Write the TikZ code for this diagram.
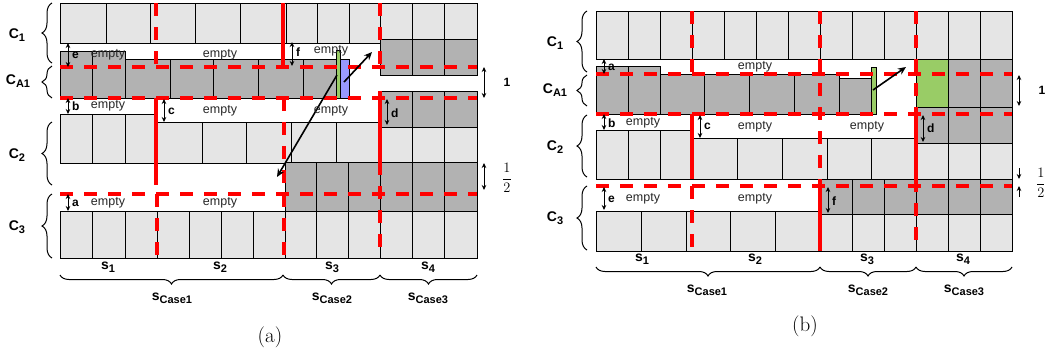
\documentclass[tikz,border=0pt]{standalone}
\usepackage{fontspec}
\newfontfamily\arial{Liberation Sans}
\usetikzlibrary{decorations.pathreplacing,arrows.meta}

\definecolor{cellL}{gray}{0.90}
\definecolor{cellD}{gray}{0.70}
\definecolor{mvgreen}{RGB}{153,204,102}
\definecolor{mvblue}{RGB}{153,153,255}

% a row of cells: fill, left x, right x, top y, bottom y, inner divider x values
\newcommand\cellrow[6]{%
  \draw[cellline,fill=#1] (#2,#4) rectangle (#3,#5);
  \foreach \xx in {#6} {\draw[cellline] (\xx,#4) -- (\xx,#5);}%
}
\newcommand\subs[1]{\raisebox{-3pt}{\fontsize{11}{12}\selectfont #1}}

\begin{document}
\begin{tikzpicture}[x=1pt,y=-1pt,
  cellline/.style={draw=black,line width=0.8pt},
  redd/.style={red,line width=3.2pt,dash pattern=on 13pt off 11pt},
  reds/.style={red,line width=3.2pt},
  dimarrow/.style={{Stealth[length=5pt,width=4.5pt]}-{Stealth[length=5pt,width=4.5pt]},line width=0.8pt},
  onearrow/.style={-{Stealth[length=5pt,width=4.5pt]},line width=0.8pt},
  movearrow/.style={-{Stealth[length=8pt,width=7pt]},line width=1.6pt},
  bracel/.style={decorate,decoration={brace,amplitude=10pt},line width=1pt},
  braceb/.style={decorate,decoration={brace,amplitude=9pt},line width=1pt},
  emptytxt/.style={font=\arial\fontsize{12.5}{13}\selectfont,text=black!85,inner sep=0pt},
  dimtxt/.style={font=\arial\bfseries\fontsize{12}{13}\selectfont,anchor=west,inner sep=0pt},
  rowlbl/.style={font=\arial\bfseries\fontsize{14}{15}\selectfont,inner sep=0pt},
  caplbl/.style={font=\fontsize{21}{24}\selectfont,inner sep=0pt},
  fraclbl/.style={font=\fontsize{15}{18}\selectfont,inner sep=0pt}]
\useasboundingbox (0,0) rectangle (1047,354);

% ---------------- panel (a) ----------------
\cellrow{cellL}{60}{380}{3}{43}{106,150,195,240,286,317,349}
\cellrow{cellL}{380}{477}{3}{39}{412,444}
\cellrow{cellD}{380}{477}{39}{75}{412,444}
\cellrow{cellD}{60}{125}{51}{98}{92}
\cellrow{cellD}{125}{336}{59}{98}{170,213,258,303}
\draw[cellline,fill=mvgreen] (336,50) rectangle (340,98);
\draw[cellline,fill=mvblue] (340,59) rectangle (349,98);
\cellrow{cellD}{380}{477}{91}{127}{412,444}
\cellrow{cellL}{380}{477}{127}{162}{412,444}
\cellrow{cellL}{60}{156}{114}{163}{92,125}
\cellrow{cellL}{156}{380}{122}{163}{202,246,291,336}
\cellrow{cellD}{285}{477}{162}{211}{316,348,380,412,444}
\cellrow{cellL}{60}{477}{211}{258}{92,125,157,189,221,253,285,316,348,380,412,444}

\draw[redd] (156,3) -- (156,67);
\draw[redd] (60,67) -- (477,67);
\draw[redd] (60,98) -- (477,98);
\draw[redd] (60,194) -- (477,194);
\draw[reds] (156,98) -- (156,185);
\draw[redd] (157,194) -- (157,258);
\draw[reds] (283,3) -- (283,67);
\draw[redd] (284,98) -- (284,258);
\draw[redd] (380,3) -- (380,75);
\draw[reds] (380,91) -- (380,162);
\draw[redd] (380,162) -- (380,258);

\coordinate (aBlue) at (344,82);
\coordinate (aGap) at (372,52);
\coordinate (aGreen) at (337,75);
\coordinate (aLow) at (277,177);
\draw[movearrow] (aBlue) -- (aGap);
\draw[movearrow] (aGreen) -- (aLow);

\draw[dimarrow] (68,43) -- (68,67);   \node[dimtxt] (ae) at (72,55) {e};
\draw[dimarrow] (68,98) -- (68,114);  \node[dimtxt] (ab) at (72,106) {b};
\draw[dimarrow] (164,99) -- (164,122);\node[dimtxt] (ac) at (168,111) {c};
\draw[dimarrow] (68,194) -- (68,211); \node[dimtxt] (aa) at (72,203) {a};
\draw[dimarrow] (292,42) -- (292,66); \node[dimtxt] (af) at (296,52) {f};
\draw[dimarrow] (387,99) -- (387,125);\node[dimtxt] (ad) at (391,113) {d};
\draw[dimarrow] (484,67) -- (484,98);
\node[font=\arial\bfseries\fontsize{12}{13}\selectfont] (aone) at (507,82) {1};
\draw[dimarrow] (484,163) -- (484,190);
\node[fraclbl] (ahalf) at (507,178) {$\displaystyle\frac{1}{2}$};

\node[emptytxt] (ae1) at (108,55) {empty};
\node[emptytxt] (ae2) at (220,55) {empty};
\node[emptytxt] (ae3) at (331,51) {empty};
\node[emptytxt] (ae4) at (108,106) {empty};
\node[emptytxt] (ae5) at (220,111) {empty};
\node[emptytxt] (ae6) at (331,111) {empty};
\node[emptytxt] (ae7) at (108,203) {empty};
\node[emptytxt] (ae8) at (220,203) {empty};

\draw[bracel] (52,63) -- (52,3);
\draw[bracel] (52,98) -- (52,66);
\draw[bracel] (52,185) -- (52,122);
\draw[bracel] (52,258) -- (52,194);
\node[rowlbl] (ac1) at (17,35) {C\subs{1}};
\node[rowlbl] (acA) at (18,81) {C\subs{A1}};
\node[rowlbl] (ac2) at (17,155) {C\subs{2}};
\node[rowlbl] (ac3) at (17,227) {C\subs{3}};

\node[rowlbl] (as1) at (108,267) {s\subs{1}};
\node[rowlbl] (as2) at (220,267) {s\subs{2}};
\node[rowlbl] (as3) at (332,267) {s\subs{3}};
\node[rowlbl] (as4) at (428,267) {s\subs{4}};
\draw[braceb] (283,275) -- (60,275);
\draw[braceb] (380,275) -- (283,275);
\draw[braceb] (477,275) -- (380,275);
\node[rowlbl] (asc1) at (172,298) {s\subs{Case1}};
\node[rowlbl] (asc2) at (332,298) {s\subs{Case2}};
\node[rowlbl] (asc3) at (428,298) {s\subs{Case3}};
\node[caplbl] (capa) at (270,337) {(a)};

% ---------------- panel (b) ----------------
\cellrow{cellL}{596}{1012}{11}{59}{628,660,692,724,756,788,820,852,884,916,948,980}
\cellrow{cellD}{596}{660}{66}{114}{628}
\cellrow{cellD}{660}{839}{74}{114}{704,749,794}
\draw[cellline,fill=cellD] (839,78) rectangle (871,114);
\draw[cellline,fill=mvgreen] (871,67) rectangle (876,114);
\draw[cellline,fill=mvgreen] (916,59) rectangle (948,107);
\cellrow{cellD}{948}{1012}{59}{107}{980}
\cellrow{cellD}{916}{1012}{107}{143}{948,980}
\cellrow{cellL}{916}{1012}{143}{179}{948,980}
\cellrow{cellL}{596}{692}{130}{179}{628,660}
\cellrow{cellL}{692}{916}{138}{179}{737,782,827,871}
\cellrow{cellD}{820}{1012}{179}{214}{852,884,916,948,980}
\cellrow{cellL}{596}{820}{211}{251}{641,686,730,775}
\cellrow{cellL}{820}{1012}{214}{251}{852,884,916,948,980}

\draw[redd] (692,11) -- (692,74);
\draw[redd] (596,74) -- (1012,74);
\draw[redd] (596,114) -- (1012,114);
\draw[redd] (596,186) -- (1012,186);
\draw[reds] (692,114) -- (692,179);
\draw[redd] (692,186) -- (692,251);
\draw[redd] (820,11) -- (820,186);
\draw[reds] (820,186) -- (820,251);
\draw[redd] (916,11) -- (916,107);
\draw[reds] (916,107) -- (916,179);
\draw[redd] (916,179) -- (916,251);

\coordinate (bGreen) at (873,90);
\coordinate (bGap) at (906,67);
\draw[movearrow] (bGreen) -- (bGap);

\draw[dimarrow] (604,59) -- (604,74);  \node[dimtxt] (ba) at (608,67) {a};
\draw[dimarrow] (604,114) -- (604,130);\node[dimtxt] (bb) at (608,123) {b};
\draw[dimarrow] (700,115) -- (700,138);\node[dimtxt] (bc) at (704,126) {c};
\draw[dimarrow] (923,115) -- (923,142);\node[dimtxt] (bd) at (927,128) {d};
\draw[dimarrow] (604,187) -- (604,210);\node[dimtxt] (be) at (608,199) {e};
\draw[dimarrow] (828,187) -- (828,213);\node[dimtxt] (bf) at (832,201) {f};
\draw[dimarrow] (1019,75) -- (1019,106);
\node[font=\arial\bfseries\fontsize{12}{13}\selectfont] (bone) at (1042,90) {1};
\coordinate (bh1) at (1019,168);
\coordinate (bh2) at (1019,179);
\coordinate (bh3) at (1019,197);
\coordinate (bh4) at (1019,186);
\draw[onearrow] (bh1) -- (bh2);
\draw[onearrow] (bh3) -- (bh4);
\node[fraclbl,anchor=west] (bhalf) at (1036,183) {$\displaystyle\frac{1}{2}$};

\node[emptytxt] (be1) at (755,67) {empty};
\node[emptytxt] (be2) at (643,123) {empty};
\node[emptytxt] (be3) at (755,127) {empty};
\node[emptytxt] (be4) at (867,127) {empty};
\node[emptytxt] (be5) at (643,199) {empty};
\node[emptytxt] (be6) at (755,199) {empty};

\draw[bracel] (587,72) -- (587,11);
\draw[bracel] (587,106) -- (587,75);
\draw[bracel] (587,177) -- (587,115);
\draw[bracel] (587,250) -- (587,186);
\node[rowlbl] (bc1) at (555,43) {C\subs{1}};
\node[rowlbl] (bcA) at (555,90) {C\subs{A1}};
\node[rowlbl] (bc2) at (555,147) {C\subs{2}};
\node[rowlbl] (bc3) at (555,218) {C\subs{3}};

\node[rowlbl] (bs1) at (642,259) {s\subs{1}};
\node[rowlbl] (bs2) at (755,259) {s\subs{2}};
\node[rowlbl] (bs3) at (867,259) {s\subs{3}};
\node[rowlbl] (bs4) at (963,259) {s\subs{4}};
\draw[braceb] (820,267) -- (596,267);
\draw[braceb] (916,267) -- (820,267);
\draw[braceb] (1012,267) -- (916,267);
\node[rowlbl] (bsc1) at (707,290) {s\subs{Case1}};
\node[rowlbl] (bsc2) at (868,290) {s\subs{Case2}};
\node[rowlbl] (bsc3) at (964,290) {s\subs{Case3}};
\node[caplbl] (capb) at (805,326) {(b)};
\end{tikzpicture}
\end{document}
